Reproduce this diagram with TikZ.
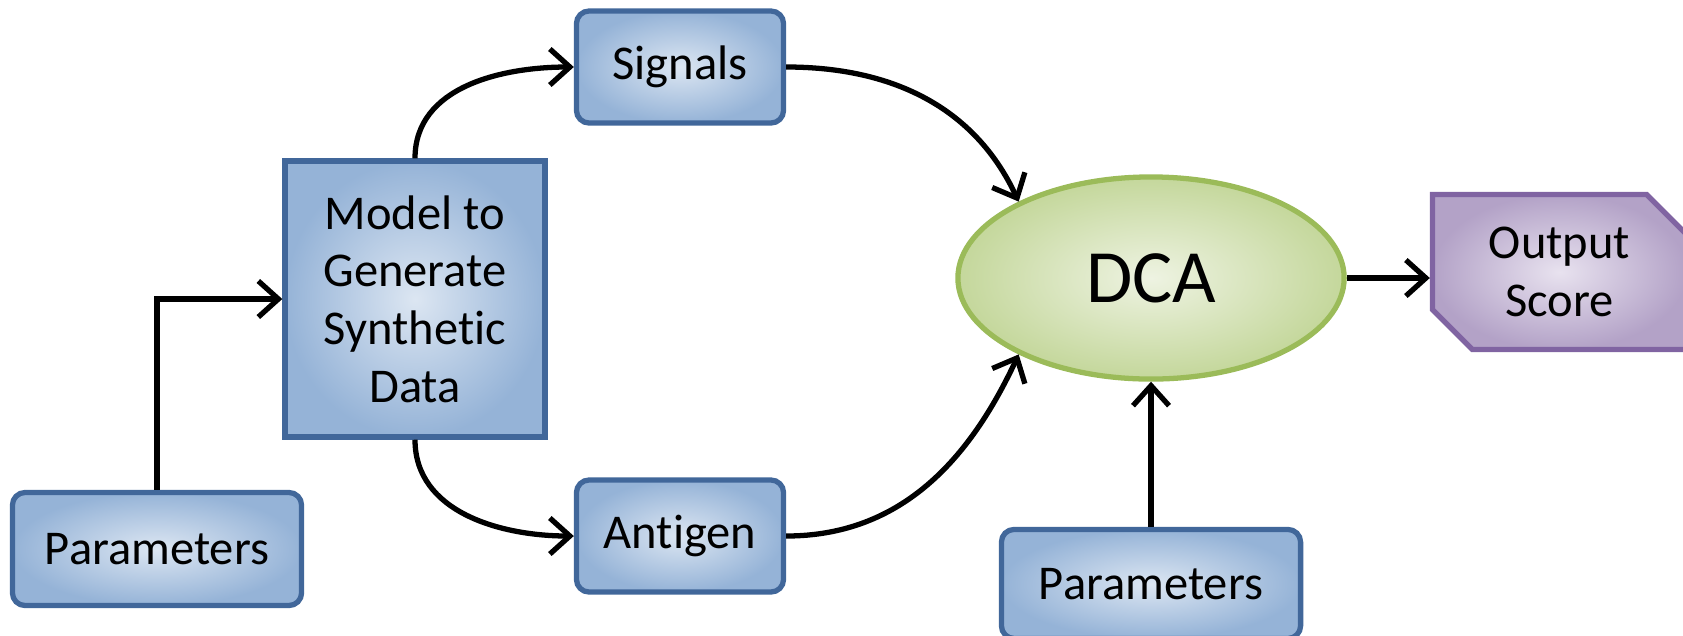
\documentclass[tikz,border=0pt]{standalone}
\usepackage{fontspec}
\setmainfont{Carlito}[Ligatures=NoCommon]
\usetikzlibrary{arrows.meta, positioning, shapes.geometric, shapes.misc}
\definecolor{dcBlue}{HTML}{41679A}
\definecolor{dcBlueIn}{HTML}{DCE6F2}
\definecolor{dcBlueOut}{HTML}{95B3D7}
\definecolor{dcGreen}{HTML}{9BBB59}
\definecolor{dcGreenIn}{HTML}{EEF3E2}
\definecolor{dcGreenOut}{HTML}{C4D79B}
\definecolor{dcPurple}{HTML}{8064A2}
\definecolor{dcPurpleIn}{HTML}{E8E2EF}
\definecolor{dcPurpleOut}{HTML}{B3A2C7}
\tikzset{
  dcbox/.style={rectangle, rounded corners=3.6pt, draw=dcBlue, line width=1.5pt,
                inner color=dcBlueIn, outer color=dcBlueOut, align=center,
                font=\fontsize{13.8}{16.4}\selectfont},
  dcflow/.style={-{Straight Barb[length=2mm, width=3.6mm]}, line width=1.5pt, color=black},
}
\begin{document}
\begin{tikzpicture}[x=0.01cm, y=0.01cm, node distance=1.45cm and 0.83cm,
  dcell/.style={ellipse, draw=dcGreen, line width=1.5pt, inner color=dcGreenIn, outer color=dcGreenOut,
                minimum width=3.86cm, minimum height=2.02cm, font=\fontsize{21.4}{24}\selectfont},
  dcout/.style={chamfered rectangle, chamfered rectangle corners={north east, south west},
                chamfered rectangle xsep=0.2cm, chamfered rectangle ysep=0.2cm, draw=dcPurple,
                line width=1.5pt, inner color=dcPurpleIn, outer color=dcPurpleOut, align=center,
                minimum width=2.54cm, minimum height=1.55cm, font=\fontsize{13.8}{16.4}\selectfont}]
  \useasboundingbox (0,0) rectangle (1683,635);
  \node[dcbox, sharp corners, minimum width=2.6cm, minimum height=2.76cm](model) at (415,336){Model to\\Generate\\Synthetic\\Data};
  \node[dcbox, minimum width=2.07cm, minimum height=1.12cm](sig) at (680,568){Signals};
  \node[dcbox, minimum width=2.07cm, minimum height=1.12cm](ant) at (680,99){Antigen};
  \node[dcbox, minimum width=2.89cm, minimum height=1.13cm](par1) at (157,86){Parameters};
  \node[dcell](dca) at (1151,357){DCA};
  \node[dcout, right=of dca, yshift=0.06cm](out){Output\\Score};
  \node[dcbox, below=of dca, minimum width=2.99cm, minimum height=1.09cm](par2){Parameters};
  \draw[dcflow](par1.north) |- (model.west);
  \draw[dcflow](model.north) to[out=90, in=180] (sig.west);
  \draw[dcflow](model.south) to[out=-90, in=180] (ant.west);
  \draw[dcflow](sig.east) to[out=0, in=115] (dca.150);
  \draw[dcflow](ant.east) to[out=0, in=245] (dca.210);
  \draw[dcflow](par2.north) -- (dca.south);
  \draw[dcflow](dca.east) -- (dca.east -| out.west);
\end{tikzpicture}
\end{document}
